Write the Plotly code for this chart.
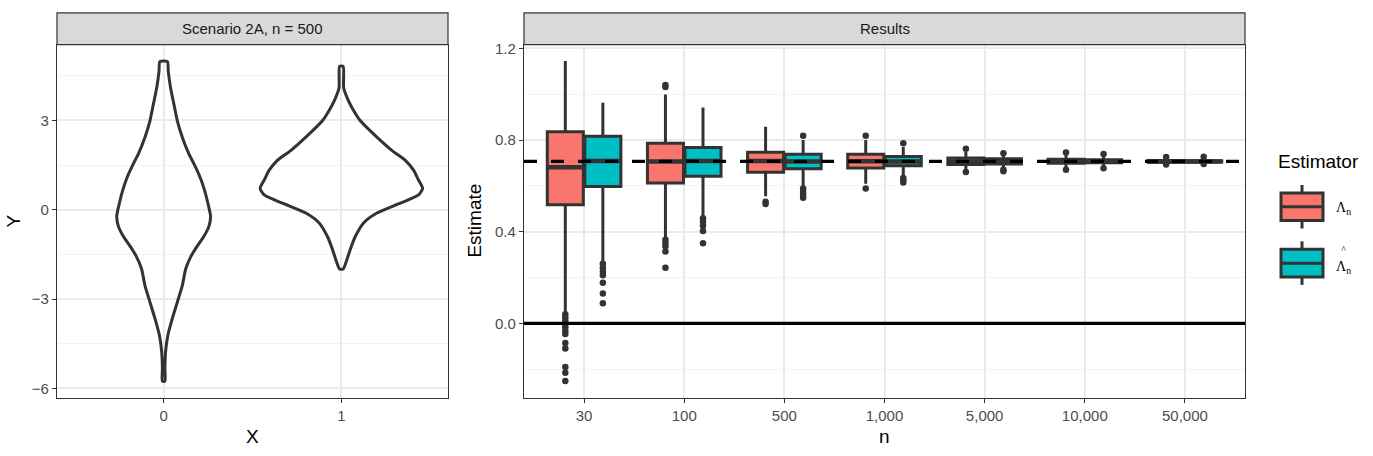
import plotly.graph_objects as go

W, H = 1373, 456

# ---- left panel: violin outlines (y, half width) ----
viol0_y = [4.98, 4.65, 4.10, 3.54, 2.99, 2.44, 1.88, 1.55, 1.11, 0.66, 0.22, -0.22, -0.55, -0.89,
           -1.22, -1.55, -1.99, -2.55, -3.10, -3.65, -4.21, -4.76, -5.32, -5.76]
viol0_w = [0.021, 0.026, 0.039, 0.058, 0.077, 0.105, 0.142, 0.170, 0.204, 0.230, 0.249, 0.264, 0.255, 0.227,
           0.189, 0.155, 0.124, 0.105, 0.077, 0.049, 0.024, 0.011, 0.007, 0.007]
viol1_y = [4.82, 4.10, 3.77, 3.43, 2.99, 2.44, 1.99, 1.66, 1.33, 1.00, 0.72, 0.50, 0.22, -0.11,
           -0.44, -0.89, -1.33, -1.66, -1.99]
viol1_w = [0.010, 0.013, 0.032, 0.060, 0.107, 0.200, 0.285, 0.360, 0.406, 0.434, 0.457, 0.434, 0.331, 0.200,
           0.125, 0.079, 0.050, 0.032, 0.010]

# ---- right panel: boxplot summaries per n ----
n_labels = ["30", "100", "500", "1,000", "5,000", "10,000", "50,000"]

lam_q1 = [0.518, 0.613, 0.660, 0.678, 0.693, 0.699, 0.703]
lam_med = [0.682, 0.707, 0.709, 0.708, 0.707, 0.707, 0.707]
lam_q3 = [0.836, 0.786, 0.747, 0.738, 0.722, 0.716, 0.711]
lam_lo = [0.050, 0.375, 0.555, 0.610, 0.670, 0.680, 0.695]
lam_hi = [1.145, 0.999, 0.858, 0.800, 0.750, 0.735, 0.722]
lam_out = [[0.040, 0.026, 0.012, -0.003, -0.017, -0.032, -0.046, -0.085, -0.109, -0.190, -0.215, -0.251],
           [1.040, 1.032, 0.365, 0.351, 0.337, 0.314, 0.243],
           [0.531, 0.521],
           [0.819, 0.589],
           [0.762, 0.661],
           [0.746, 0.671],
           [0.726, 0.694]]

hat_q1 = [0.597, 0.642, 0.675, 0.688, 0.696, 0.701, 0.704]
hat_med = [0.709, 0.709, 0.707, 0.707, 0.707, 0.707, 0.707]
hat_q3 = [0.817, 0.768, 0.738, 0.728, 0.719, 0.714, 0.710]
hat_lo = [0.270, 0.470, 0.600, 0.640, 0.680, 0.685, 0.697]
hat_hi = [0.963, 0.942, 0.800, 0.770, 0.735, 0.730, 0.718]
hat_out = [[0.260, 0.243, 0.227, 0.210, 0.177, 0.131, 0.088],
           [0.459, 0.443, 0.426, 0.403, 0.350],
           [0.819, 0.589, 0.574, 0.560, 0.548],
           [0.786, 0.635, 0.625, 0.615],
           [0.743, 0.671, 0.664],
           [0.739, 0.677],
           [0.727, 0.696]]

truth = 0.7071

RED, TEAL, DARK = "#F8766D", "#00BFC4", "#333333"
FONT = "Liberation Sans, Arial, sans-serif"


def px(x):
    return x / W


def py(y):
    return 1 - y / H


def label(x, y, text, size, color="black", angle=0, xanchor="center", family=None):
    f = dict(size=size, color=color)
    if family:
        f["family"] = family
    fig.add_annotation(x=px(x), y=py(y), xref="paper", yref="paper", text=text, textangle=angle,
                       xanchor=xanchor, yanchor="middle", showarrow=False, font=f)


fig = go.Figure()

# violins as closed outlines
for c, vy, vw in [(0, viol0_y, viol0_w), (1, viol1_y, viol1_w)]:
    xs = [c + w for w in vw] + [c - w for w in vw[::-1]] + [c + vw[0]]
    ys = list(vy) + list(vy[::-1]) + [vy[0]]
    fig.add_trace(go.Scatter(x=xs, y=ys, mode="lines", line=dict(color=DARK, width=3, shape="spline", smoothing=0.6),
                             xaxis="x", yaxis="y", showlegend=False, hoverinfo="skip"))

# dodged boxplots
dodge, bw = 0.1875, 0.36
for off, col, q1, med, q3, lo, hi, outs in [(-dodge, RED, lam_q1, lam_med, lam_q3, lam_lo, lam_hi, lam_out),
                                            (dodge, TEAL, hat_q1, hat_med, hat_q3, hat_lo, hat_hi, hat_out)]:
    xs = [i + off for i in range(len(n_labels))]
    fig.add_trace(go.Box(x=xs, q1=q1, median=med, q3=q3, lowerfence=lo, upperfence=hi,
                         orientation="v", width=bw, fillcolor=col, whiskerwidth=0,
                         line=dict(color=DARK, width=3), boxpoints=False,
                         xaxis="x2", yaxis="y2", showlegend=False))
    # ggplot draws the median fatter than the box outline
    mx, my = [], []
    for x, m in zip(xs, med):
        mx += [x - bw / 2, x + bw / 2, None]
        my += [m, m, None]
    fig.add_trace(go.Scatter(x=mx, y=my, mode="lines", line=dict(color=DARK, width=4.5),
                             xaxis="x2", yaxis="y2", showlegend=False, hoverinfo="skip"))
    ox, oy = [], []
    for i, vals in enumerate(outs):
        ox += [i + off] * len(vals)
        oy += vals
    fig.add_trace(go.Scatter(x=ox, y=oy, mode="markers", marker=dict(color=DARK, size=6.5),
                             xaxis="x2", yaxis="y2", showlegend=False))

# reference lines
fig.add_shape(type="line", xref="x2 domain", yref="y2", x0=0, x1=1, y0=truth, y1=truth,
              line=dict(color="black", width=3.4, dash="13px,14px"), layer="above")
fig.add_shape(type="line", xref="x2 domain", yref="y2", x0=0, x1=1, y0=0, y1=0,
              line=dict(color="black", width=3.2), layer="above")

# facet strips
for x0, x1, txt in [(57, 448, "Scenario 2A, n = 500"), (524, 1245, "Results")]:
    fig.add_shape(type="rect", xref="paper", yref="paper", x0=px(x0), x1=px(x1), y0=py(40), y1=py(8),
                  fillcolor="#D9D9D9", line=dict(color=DARK, width=1.2))
    label((x0 + x1) / 2, 24, txt, 15, "#1A1A1A")

# axis titles
label(252, 436, "X", 19)
label(14, 218, "Y", 19, angle=-90)
label(884, 436, "n", 19)
label(475, 218, "Estimate", 19, angle=-90)

# legend drawn by hand (ggplot style keys)
label(1276, 158, "Estimator", 19, xanchor="left")
for yc, col, lab, ly in [(204, RED, "Λ<sub>n</sub>", 206),
                         (261, TEAL, "<span style='font-size:10px'>^</span><br>Λ<sub>n</sub>", 258)]:
    fig.add_shape(type="line", xref="paper", yref="paper", x0=px(1302), x1=px(1302), y0=py(yc + 22), y1=py(yc - 22),
                  line=dict(color=DARK, width=3))
    fig.add_shape(type="rect", xref="paper", yref="paper", x0=px(1281), x1=px(1323), y0=py(yc + 14), y1=py(yc - 14),
                  fillcolor=col, line=dict(color=DARK, width=3))
    fig.add_shape(type="line", xref="paper", yref="paper", x0=px(1281), x1=px(1323), y0=py(yc), y1=py(yc),
                  line=dict(color=DARK, width=3))
    label(1334, ly, lab, 14, xanchor="left", family="Liberation Serif, serif")

axis_common = dict(showline=True, mirror=True, linecolor=DARK, linewidth=1.2, ticks="outside", ticklen=4,
                   tickcolor=DARK, tickwidth=1.2, tickfont=dict(size=15, color="#4D4D4D"),
                   gridcolor="#EBEBEB", gridwidth=1.5, zeroline=False, showgrid=True)

fig.update_layout(
    width=W, height=H, margin=dict(l=0, r=0, t=0, b=0),
    paper_bgcolor="white", plot_bgcolor="white", font=dict(family=FONT),
    xaxis=dict(domain=[px(57), px(448)], anchor="y", range=[-0.6, 1.6], tickvals=[0, 1], ticktext=["0", "1"],
               **axis_common),
    yaxis=dict(domain=[py(397), py(40)], anchor="x", range=[-6.31, 5.55], tickvals=[-6, -3, 0, 3],
               minor=dict(tickvals=[-4.5, -1.5, 1.5, 4.5], showgrid=True, gridcolor="#F3F3F3", gridwidth=1),
               **axis_common),
    xaxis2=dict(domain=[px(524), px(1245)], anchor="y2", range=[-0.6, 6.6],
                tickvals=list(range(len(n_labels))), ticktext=n_labels, **axis_common),
    yaxis2=dict(domain=[py(397), py(40)], anchor="x2", range=[-0.324, 1.217], tickvals=[0.0, 0.4, 0.8, 1.2],
                ticktext=["0.0", "0.4", "0.8", "1.2"],
                minor=dict(tickvals=[-0.2, 0.2, 0.6, 1.0], showgrid=True, gridcolor="#F3F3F3", gridwidth=1),
                **axis_common),
)

# the page body has a default 8px margin; drop it so the figure fills the window
fig.write_html("out.html", config={"displayModeBar": False},
               post_script="document.body.style.margin='0px';")
